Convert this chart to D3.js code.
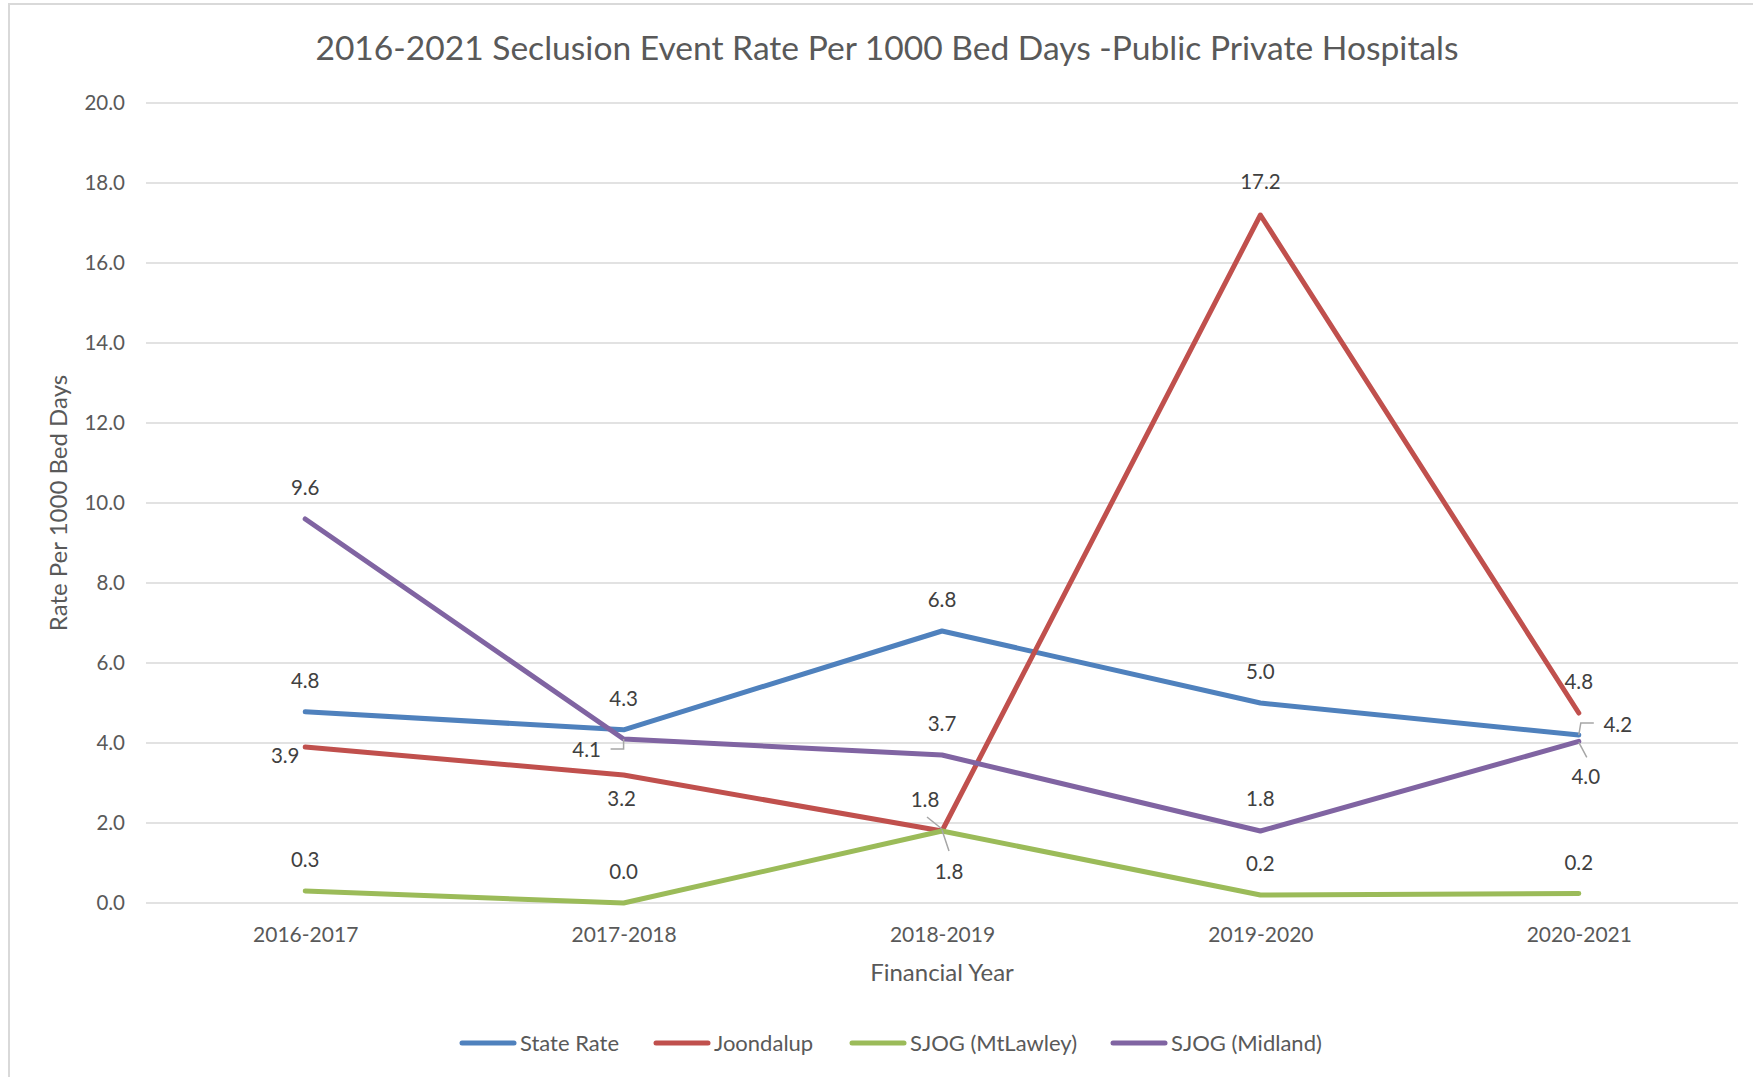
<!DOCTYPE html>
<html><head><meta charset="utf-8">
<script src="https://cdn.jsdelivr.net/npm/d3@7"></script>
<style>
html,body{margin:0;padding:0;background:#fff;}
svg{display:block;font-family:Lato,"Open Sans",sans-serif;}
</style></head>
<body><svg id="c" width="1753" height="1077"></svg>
<script>
const title = "2016-2021 Seclusion Event Rate Per 1000 Bed Days -Public Private Hospitals";
const categories = ["2016-2017","2017-2018","2018-2019","2019-2020","2020-2021"];
const yTicks = [0,2,4,6,8,10,12,14,16,18,20];
const seriesNames = ["State Rate","Joondalup","SJOG (MtLawley)","SJOG (Midland)"];
const stateRate = [4.78, 4.33, 6.8, 5.0, 4.2];
const joondalup = [3.9, 3.2, 1.8, 17.2, 4.75];
const sjogMtLawley = [0.3, 0.0, 1.8, 0.2, 0.24];
const sjogMidland = [9.6, 4.1, 3.7, 1.8, 4.04];
const colors = ["#4F81BD","#C0504D","#9BBB59","#8064A2"];
// label centre offsets from each point (px) and optional leader lines
const labelOffsets = [
  [[0,-31],[0,-31],[0,-31],[0,-31],[39,-10]],
  [[-20,9],[-2,24],[-17,-31],[0,-33],[0,-31]],
  [[0,-31],[0,-31],[7,41],[0,-31],[0,-31]],
  [[0,-31],[-37,11],[0,-31],[0,-32],[7,35]]
];
const leaders = [
  [null,null,null,null,[[0,0],[2,-12],[15,-12]]],
  [null,null,[[-15,-14],[0,-2]],null,null],
  [null,null,[[0,-1],[7,20]],null,null],
  [null,[[0,0],[0,10],[-13,10]],null,null,[[0,1],[8,16]]]
];
const values = [stateRate, joondalup, sjogMtLawley, sjogMidland];

const svg = d3.select("#c");
svg.append("rect").attr("x",9).attr("y",4).attr("width",1800).attr("height",1200)
  .attr("fill","none").attr("stroke","#d9d9d9").attr("stroke-width",2);

const x = d3.scalePoint().domain(categories).range([146,1738]).padding(0.5);
const y = d3.scaleLinear().domain([0,20]).range([903,103]);

svg.append("g").selectAll("line").data(yTicks).join("line")
  .attr("x1",146).attr("x2",1738).attr("y1",d=>y(d)).attr("y2",d=>y(d))
  .attr("stroke","#d9d9d9").attr("stroke-width",1.5);

const yAxis = d3.axisLeft(y).tickValues(yTicks).tickFormat(d3.format(".1f")).tickSize(0).tickPadding(0);
const gy = svg.append("g").attr("transform","translate(125,0)").call(yAxis);
gy.select(".domain").remove();
gy.selectAll("text").attr("font-size",20.5).attr("fill","#595959").attr("font-family","Lato");

const xAxis = d3.axisBottom(x).tickSize(0).tickPadding(0);
const gx = svg.append("g").attr("transform","translate(0,927)").call(xAxis);
gx.select(".domain").remove();
gx.selectAll("text").attr("font-size",21).attr("fill","#595959").attr("font-family","Lato");

svg.append("text").attr("x",887).attr("y",48).attr("dy","0.35em").attr("text-anchor","middle")
  .attr("font-size",33.6).attr("fill","#595959").text(title);
svg.append("text").attr("x",942).attr("y",973).attr("dy","0.35em").attr("text-anchor","middle")
  .attr("font-size",24).attr("fill","#595959").text("Financial Year");
svg.append("text").attr("transform","translate(59,503) rotate(-90)").attr("dy","0.35em").attr("text-anchor","middle")
  .attr("font-size",24).attr("fill","#595959").text("Rate Per 1000 Bed Days");

const line = d3.line().x((d,i)=>x(categories[i])).y(d=>y(d));
values.forEach((vals,s)=>{
  svg.append("path").datum(vals).attr("d",line).attr("fill","none")
    .attr("stroke",colors[s]).attr("stroke-width",5).attr("stroke-linejoin","round").attr("stroke-linecap","round");
});

values.forEach((vals,s)=>{
  vals.forEach((v,i)=>{
    const px = x(categories[i]), py = y(v);
    const ld = leaders[s][i];
    if(ld){
      svg.append("path").attr("d", d3.line()(ld.map(p=>[px+p[0],py+p[1]])))
        .attr("fill","none").attr("stroke","#a6a6a6").attr("stroke-width",1.5);
    }
    const o = labelOffsets[s][i];
    svg.append("text").attr("x",px+o[0]).attr("y",py+o[1]).attr("dy","0.35em")
      .attr("text-anchor","middle").attr("font-size",20.5).attr("fill","#404040")
      .text(d3.format(".1f")(v));
  });
});

const legendX = [462,656,852,1113];
const lg = svg.append("g");
seriesNames.forEach((n,s)=>{
  lg.append("line").attr("x1",legendX[s]).attr("x2",legendX[s]+52).attr("y1",1043).attr("y2",1043)
    .attr("stroke",colors[s]).attr("stroke-width",5).attr("stroke-linecap","round");
  lg.append("text").attr("x",legendX[s]+58).attr("y",1043).attr("dy","0.35em")
    .attr("font-size",22).attr("fill","#595959").text(n);
});
</script></body></html>
